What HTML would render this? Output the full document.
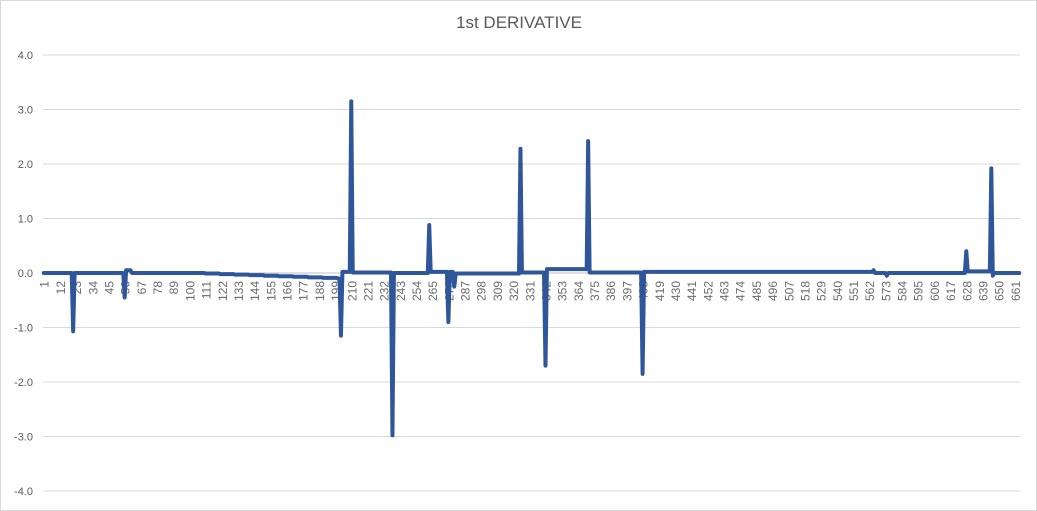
<!DOCTYPE html>
<html><head><meta charset="utf-8"><style>
html,body{margin:0;padding:0;background:#fff;}
svg{display:block;font-family:"Liberation Sans",sans-serif;}
</style></head><body>
<svg id="chart" width="1037" height="511" viewBox="0 0 1037 511">
<rect x="0.5" y="0.5" width="1036" height="510" fill="#fff" stroke="#d9d9d9"/>
<text x="519" y="28" text-anchor="middle" font-size="17" fill="#595959">1st DERIVATIVE</text>
<g id="grid"></g><g id="ylab"></g><g id="xlab"></g><g id="series"></g>
</svg>
<script>
// run-length encoded series: [count, value]
const valueRuns = [[20,0],[1,-1.07],[34,0],[1,-0.45],[4,0.05],[50,0],
[10,-0.01],[10,-0.02],[10,-0.03],[10,-0.04],[10,-0.05],[10,-0.06],[10,-0.07],[10,-0.08],[10,-0.09],
[2,-0.1],[1,-1.15],[6,0.02],[1,3.15],[27,0.01],[1,-2.98],[24,0],[1,0.88],[12,0.02],[1,-0.9],[3,0.02],[1,-0.25],
[44,-0.01],[1,2.28],[16,0.01],[1,-1.7],[28,0.07],[1,2.42],[36,0.01],[1,-1.85],[156,0.02],[1,0.05],[8,0],[1,-0.05],
[53,0],[1,0.4],[16,0.03],[1,1.92],[1,-0.05],[18,0]];
const yTicks = [4,3,2,1,0,-1,-2,-3,-4];
const xTickStep = 11;

const values = [];
valueRuns.forEach(r => { for (let k = 0; k < r[0]; k++) values.push(r[1]); });
const n = values.length;
const L = 43, R = 1020, T = 55, B = 491, yMin = -4, yMax = 4;
const yS = v => B - (v - yMin) / (yMax - yMin) * (B - T);
const xS = i => L + (i + 0.5) * (R - L) / n;
const NS = "http://www.w3.org/2000/svg";
const g = document.getElementById('grid'), yl = document.getElementById('ylab'), xl = document.getElementById('xlab'), sg = document.getElementById('series');
yTicks.forEach(t => {
  const ln = document.createElementNS(NS, 'line');
  ln.setAttribute('x1', L); ln.setAttribute('x2', R);
  ln.setAttribute('y1', yS(t)); ln.setAttribute('y2', yS(t));
  ln.setAttribute('stroke', t === 0 ? '#bfbfbf' : '#d9d9d9'); ln.setAttribute('stroke-width', 1);
  
  
  g.appendChild(ln);
  const tx = document.createElementNS(NS, 'text');
  tx.setAttribute('x', 33); tx.setAttribute('y', yS(t) + 4);
  tx.setAttribute('text-anchor', 'end'); tx.setAttribute('font-size', 11); tx.setAttribute('fill', '#595959');
  tx.textContent = t.toFixed(1);
  
  
  yl.appendChild(tx);
});
for (let i = 0; i < n; i += xTickStep) {
  const x = xS(i);
  const tx = document.createElementNS(NS, 'text');
  tx.setAttribute('transform', `translate(${x + 5},281) rotate(-90)`);
  tx.setAttribute('text-anchor', 'end'); tx.setAttribute('font-size', 12); tx.setAttribute('fill', '#6a6a6a');
  tx.textContent = String(i + 1);
  
  
  xl.appendChild(tx);
}
let d = '';
values.forEach((v, i) => { d += (i ? 'L' : 'M') + xS(i).toFixed(2) + ',' + yS(v).toFixed(2); });
const p = document.createElementNS(NS, 'path');
p.setAttribute('d', d); p.setAttribute('fill', 'none'); p.setAttribute('stroke', '#2F569B');
p.setAttribute('stroke-width', 4); p.setAttribute('stroke-linejoin', 'round'); p.setAttribute('stroke-linecap', 'round');


sg.appendChild(p);
</script>
</body></html>
